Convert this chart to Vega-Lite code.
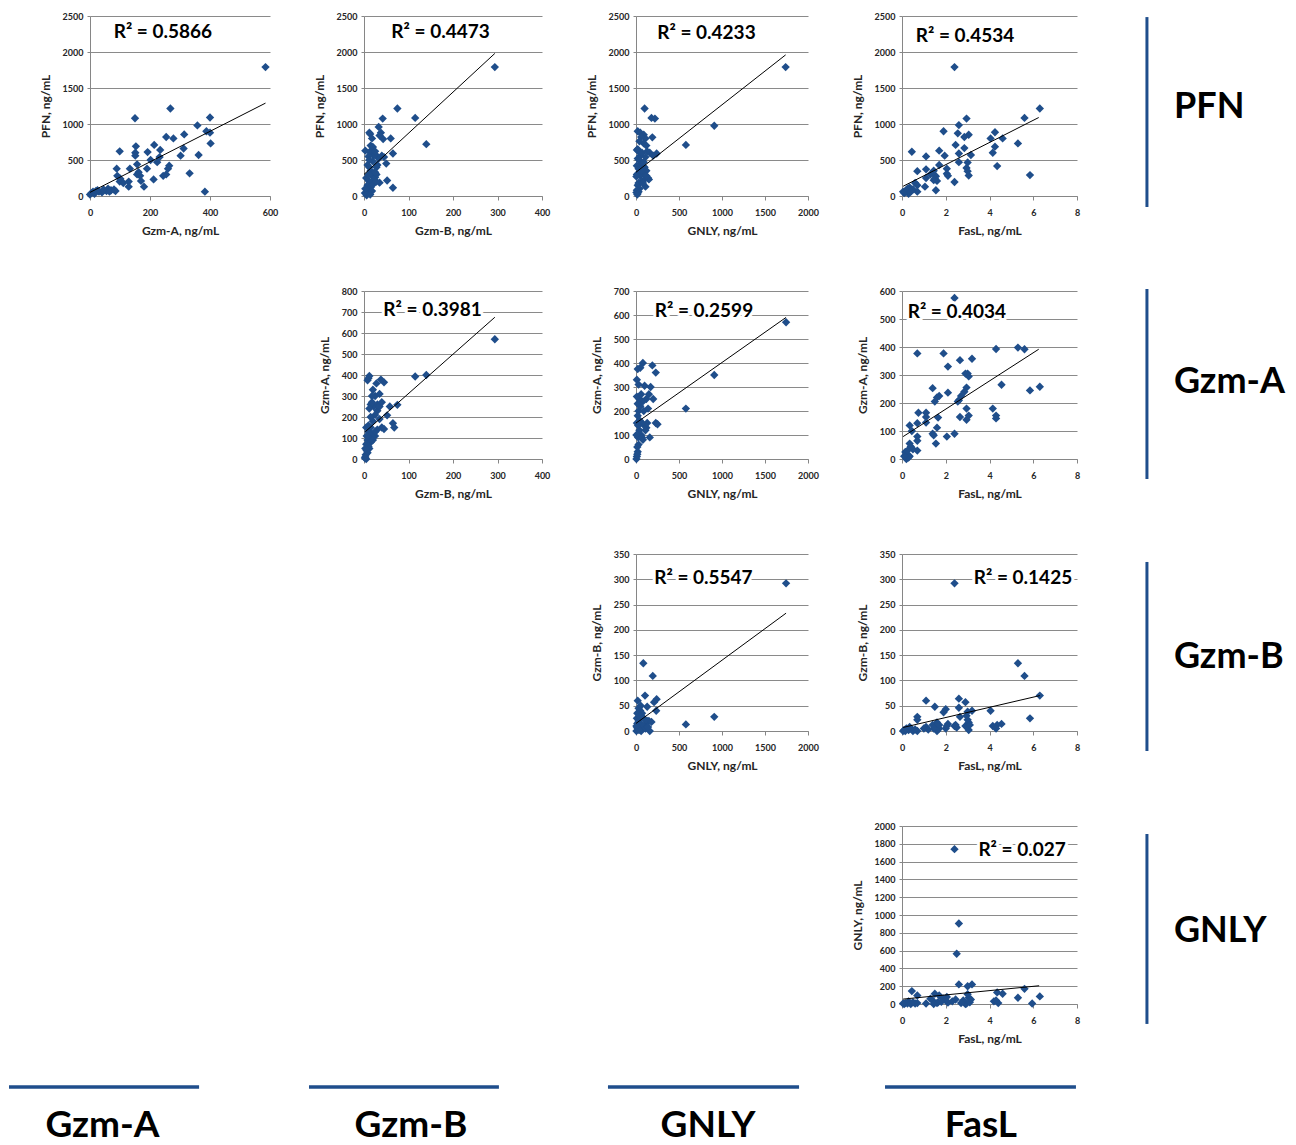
{
"$schema": "https://vega.github.io/schema/vega-lite/v6.json",
"background": "white",
"padding": {"left": 7, "top": 12, "right": 0, "bottom": 0},
"datasets": {
"PFN_GzmA": [{"GzmA":585,"PFN":1790},{"GzmA":268,"PFN":1215},{"GzmA":150,"PFN":1080},{"GzmA":400,"PFN":1090},{"GzmA":358,"PFN":980},{"GzmA":388,"PFN":900},{"GzmA":400,"PFN":880},{"GzmA":254,"PFN":820},{"GzmA":278,"PFN":800},{"GzmA":314,"PFN":855},{"GzmA":234,"PFN":640},{"GzmA":214,"PFN":710},{"GzmA":153,"PFN":690},{"GzmA":151,"PFN":600},{"GzmA":151,"PFN":560},{"GzmA":192,"PFN":610},{"GzmA":99,"PFN":620},{"GzmA":402,"PFN":730},{"GzmA":312,"PFN":660},{"GzmA":302,"PFN":560},{"GzmA":362,"PFN":570},{"GzmA":264,"PFN":420},{"GzmA":260,"PFN":380},{"GzmA":224,"PFN":470},{"GzmA":157,"PFN":440},{"GzmA":133,"PFN":380},{"GzmA":190,"PFN":380},{"GzmA":89,"PFN":380},{"GzmA":332,"PFN":315},{"GzmA":254,"PFN":300},{"GzmA":244,"PFN":280},{"GzmA":212,"PFN":230},{"GzmA":167,"PFN":280},{"GzmA":157,"PFN":300},{"GzmA":170,"PFN":210},{"GzmA":180,"PFN":130},{"GzmA":129,"PFN":130},{"GzmA":129,"PFN":200},{"GzmA":99,"PFN":200},{"GzmA":91,"PFN":280},{"GzmA":101,"PFN":240},{"GzmA":383,"PFN":60},{"GzmA":70,"PFN":80},{"GzmA":55,"PFN":70},{"GzmA":40,"PFN":50},{"GzmA":30,"PFN":60},{"GzmA":20,"PFN":70},{"GzmA":10,"PFN":60},{"GzmA":5,"PFN":40},{"GzmA":0,"PFN":20},{"GzmA":80,"PFN":90},{"GzmA":60,"PFN":100},{"GzmA":111,"PFN":180},{"GzmA":232,"PFN":540},{"GzmA":162,"PFN":330},{"GzmA":202,"PFN":500},{"GzmA":25,"PFN":80},{"GzmA":15,"PFN":30},{"GzmA":45,"PFN":90},{"GzmA":65,"PFN":60},{"GzmA":85,"PFN":70}],
"fit_PFN_GzmA": [{"GzmA":0,"PFN":50},{"GzmA":585,"PFN":1290}],
"PFN_GzmB": [{"GzmB":294,"PFN":1790},{"GzmB":75,"PFN":1215},{"GzmB":115,"PFN":1085},{"GzmB":140,"PFN":720},{"GzmB":42,"PFN":1075},{"GzmB":65,"PFN":590},{"GzmB":60,"PFN":800},{"GzmB":65,"PFN":115},{"GzmB":52,"PFN":215},{"GzmB":50,"PFN":450},{"GzmB":33,"PFN":960},{"GzmB":38,"PFN":880},{"GzmB":43,"PFN":790},{"GzmB":35,"PFN":840},{"GzmB":30,"PFN":550},{"GzmB":33,"PFN":520},{"GzmB":28,"PFN":400},{"GzmB":28,"PFN":300},{"GzmB":35,"PFN":185},{"GzmB":12,"PFN":880},{"GzmB":14,"PFN":860},{"GzmB":18,"PFN":800},{"GzmB":15,"PFN":700},{"GzmB":20,"PFN":680},{"GzmB":17,"PFN":640},{"GzmB":15,"PFN":600},{"GzmB":22,"PFN":560},{"GzmB":10,"PFN":550},{"GzmB":3,"PFN":630},{"GzmB":8,"PFN":430},{"GzmB":12,"PFN":400},{"GzmB":15,"PFN":350},{"GzmB":20,"PFN":320},{"GzmB":18,"PFN":280},{"GzmB":25,"PFN":260},{"GzmB":22,"PFN":230},{"GzmB":12,"PFN":200},{"GzmB":8,"PFN":150},{"GzmB":15,"PFN":120},{"GzmB":10,"PFN":80},{"GzmB":5,"PFN":50},{"GzmB":2,"PFN":40},{"GzmB":8,"PFN":30},{"GzmB":18,"PFN":70},{"GzmB":25,"PFN":330},{"GzmB":30,"PFN":430},{"GzmB":40,"PFN":560},{"GzmB":20,"PFN":480},{"GzmB":12,"PFN":500},{"GzmB":25,"PFN":620},{"GzmB":5,"PFN":250},{"GzmB":3,"PFN":100},{"GzmB":10,"PFN":300},{"GzmB":20,"PFN":160},{"GzmB":28,"PFN":200},{"GzmB":45,"PFN":540},{"GzmB":6,"PFN":10},{"GzmB":14,"PFN":20}],
"fit_PFN_GzmB": [{"GzmB":0,"PFN":300},{"GzmB":294,"PFN":1980}],
"PFN_GNLY": [{"GNLY":1740,"PFN":1790},{"GNLY":910,"PFN":975},{"GNLY":580,"PFN":710},{"GNLY":100,"PFN":1215},{"GNLY":180,"PFN":1085},{"GNLY":220,"PFN":1075},{"GNLY":190,"PFN":815},{"GNLY":240,"PFN":590},{"GNLY":160,"PFN":600},{"GNLY":20,"PFN":900},{"GNLY":50,"PFN":880},{"GNLY":90,"PFN":850},{"GNLY":110,"PFN":800},{"GNLY":90,"PFN":730},{"GNLY":120,"PFN":700},{"GNLY":10,"PFN":640},{"GNLY":30,"PFN":620},{"GNLY":50,"PFN":560},{"GNLY":20,"PFN":520},{"GNLY":40,"PFN":500},{"GNLY":60,"PFN":450},{"GNLY":10,"PFN":420},{"GNLY":100,"PFN":400},{"GNLY":30,"PFN":380},{"GNLY":120,"PFN":350},{"GNLY":70,"PFN":320},{"GNLY":10,"PFN":300},{"GNLY":50,"PFN":280},{"GNLY":140,"PFN":250},{"GNLY":150,"PFN":230},{"GNLY":90,"PFN":220},{"GNLY":60,"PFN":200},{"GNLY":30,"PFN":180},{"GNLY":20,"PFN":150},{"GNLY":110,"PFN":130},{"GNLY":40,"PFN":100},{"GNLY":10,"PFN":80},{"GNLY":30,"PFN":60},{"GNLY":5,"PFN":50},{"GNLY":20,"PFN":40},{"GNLY":20,"PFN":650},{"GNLY":70,"PFN":600},{"GNLY":60,"PFN":820},{"GNLY":40,"PFN":760},{"GNLY":110,"PFN":540},{"GNLY":90,"PFN":470},{"GNLY":120,"PFN":280},{"GNLY":80,"PFN":180},{"GNLY":5,"PFN":270},{"GNLY":60,"PFN":350},{"GNLY":130,"PFN":620},{"GNLY":200,"PFN":560},{"GNLY":15,"PFN":20}],
"fit_PFN_GNLY": [{"GNLY":0,"PFN":330},{"GNLY":1740,"PFN":1960}],
"PFN_FasL": [{"FasL":2.4,"PFN":1790},{"FasL":6.3,"PFN":1215},{"FasL":5.6,"PFN":1085},{"FasL":2.95,"PFN":1075},{"FasL":2.6,"PFN":985},{"FasL":1.9,"PFN":900},{"FasL":2.55,"PFN":870},{"FasL":3.05,"PFN":850},{"FasL":2.85,"PFN":820},{"FasL":4.25,"PFN":885},{"FasL":4.05,"PFN":800},{"FasL":4.6,"PFN":800},{"FasL":5.3,"PFN":730},{"FasL":2.45,"PFN":710},{"FasL":2.85,"PFN":665},{"FasL":4.25,"PFN":685},{"FasL":1.7,"PFN":630},{"FasL":0.45,"PFN":615},{"FasL":4.15,"PFN":600},{"FasL":2.6,"PFN":590},{"FasL":3.15,"PFN":570},{"FasL":1.95,"PFN":560},{"FasL":1.1,"PFN":550},{"FasL":2.6,"PFN":470},{"FasL":3.0,"PFN":465},{"FasL":1.7,"PFN":430},{"FasL":4.35,"PFN":415},{"FasL":2.95,"PFN":390},{"FasL":2.05,"PFN":380},{"FasL":1.1,"PFN":370},{"FasL":1.45,"PFN":350},{"FasL":0.7,"PFN":345},{"FasL":3.0,"PFN":345},{"FasL":2.05,"PFN":310},{"FasL":2.1,"PFN":280},{"FasL":1.55,"PFN":275},{"FasL":3.05,"PFN":285},{"FasL":5.85,"PFN":290},{"FasL":1.5,"PFN":240},{"FasL":1.1,"PFN":250},{"FasL":1.6,"PFN":210},{"FasL":2.4,"PFN":195},{"FasL":0.6,"PFN":180},{"FasL":0.7,"PFN":150},{"FasL":1.05,"PFN":130},{"FasL":0.35,"PFN":120},{"FasL":1.55,"PFN":80},{"FasL":0.7,"PFN":60},{"FasL":0.05,"PFN":60},{"FasL":0.1,"PFN":40},{"FasL":0.3,"PFN":30},{"FasL":0.2,"PFN":80},{"FasL":0.5,"PFN":90},{"FasL":0.15,"PFN":55},{"FasL":1.45,"PFN":220},{"FasL":0.25,"PFN":100},{"FasL":0.4,"PFN":60},{"FasL":1.3,"PFN":300}],
"fit_PFN_FasL": [{"FasL":0.05,"PFN":135},{"FasL":6.25,"PFN":1090}],
"GzmA_GzmB": [{"GzmB":294,"GzmA":570},{"GzmB":115,"GzmA":393},{"GzmB":140,"GzmA":400},{"GzmB":75,"GzmA":258},{"GzmB":65,"GzmA":170},{"GzmB":68,"GzmA":150},{"GzmB":58,"GzmA":250},{"GzmB":52,"GzmA":208},{"GzmB":45,"GzmA":365},{"GzmB":38,"GzmA":378},{"GzmB":35,"GzmA":310},{"GzmB":40,"GzmA":150},{"GzmB":45,"GzmA":143},{"GzmB":30,"GzmA":230},{"GzmB":30,"GzmA":260},{"GzmB":20,"GzmA":330},{"GzmB":25,"GzmA":300},{"GzmB":22,"GzmA":250},{"GzmB":15,"GzmA":260},{"GzmB":10,"GzmA":385},{"GzmB":12,"GzmA":395},{"GzmB":8,"GzmA":375},{"GzmB":18,"GzmA":300},{"GzmB":28,"GzmA":360},{"GzmB":35,"GzmA":250},{"GzmB":25,"GzmA":210},{"GzmB":20,"GzmA":180},{"GzmB":15,"GzmA":150},{"GzmB":10,"GzmA":130},{"GzmB":18,"GzmA":120},{"GzmB":25,"GzmA":110},{"GzmB":12,"GzmA":100},{"GzmB":8,"GzmA":90},{"GzmB":15,"GzmA":80},{"GzmB":5,"GzmA":70},{"GzmB":10,"GzmA":60},{"GzmB":12,"GzmA":50},{"GzmB":6,"GzmA":40},{"GzmB":8,"GzmA":30},{"GzmB":4,"GzmA":20},{"GzmB":3,"GzmA":10},{"GzmB":5,"GzmA":0},{"GzmB":2,"GzmA":5},{"GzmB":30,"GzmA":140},{"GzmB":20,"GzmA":90},{"GzmB":15,"GzmA":200},{"GzmB":10,"GzmA":160},{"GzmB":5,"GzmA":150},{"GzmB":25,"GzmA":130},{"GzmB":35,"GzmA":190},{"GzmB":12,"GzmA":240},{"GzmB":18,"GzmA":270},{"GzmB":40,"GzmA":270},{"GzmB":6,"GzmA":110},{"GzmB":3,"GzmA":50}],
"fit_GzmA_GzmB": [{"GzmB":3,"GzmA":130},{"GzmB":294,"GzmA":675}],
"GzmA_GNLY": [{"GNLY":1745,"GzmA":570},{"GNLY":910,"GzmA":350},{"GNLY":580,"GzmA":210},{"GNLY":190,"GzmA":390},{"GNLY":230,"GzmA":360},{"GNLY":80,"GzmA":400},{"GNLY":50,"GzmA":380},{"GNLY":20,"GzmA":375},{"GNLY":10,"GzmA":330},{"GNLY":100,"GzmA":305},{"GNLY":170,"GzmA":300},{"GNLY":200,"GzmA":250},{"GNLY":150,"GzmA":270},{"GNLY":120,"GzmA":250},{"GNLY":80,"GzmA":240},{"GNLY":40,"GzmA":250},{"GNLY":140,"GzmA":210},{"GNLY":230,"GzmA":150},{"GNLY":250,"GzmA":145},{"GNLY":160,"GzmA":90},{"GNLY":100,"GzmA":140},{"GNLY":70,"GzmA":150},{"GNLY":60,"GzmA":100},{"GNLY":30,"GzmA":200},{"GNLY":20,"GzmA":180},{"GNLY":10,"GzmA":150},{"GNLY":40,"GzmA":120},{"GNLY":30,"GzmA":60},{"GNLY":20,"GzmA":30},{"GNLY":10,"GzmA":10},{"GNLY":5,"GzmA":0},{"GNLY":50,"GzmA":220},{"GNLY":90,"GzmA":200},{"GNLY":120,"GzmA":130},{"GNLY":80,"GzmA":80},{"GNLY":25,"GzmA":90},{"GNLY":15,"GzmA":50},{"GNLY":10,"GzmA":260},{"GNLY":30,"GzmA":310},{"GNLY":60,"GzmA":270},{"GNLY":5,"GzmA":100},{"GNLY":20,"GzmA":230},{"GNLY":45,"GzmA":160},{"GNLY":110,"GzmA":120},{"GNLY":130,"GzmA":150},{"GNLY":70,"GzmA":90},{"GNLY":15,"GzmA":20},{"GNLY":25,"GzmA":140}],
"fit_GzmA_GNLY": [{"GNLY":0,"GzmA":150},{"GNLY":1745,"GzmA":590}],
"GzmA_FasL": [{"FasL":2.4,"GzmA":575},{"FasL":4.3,"GzmA":393},{"FasL":5.3,"GzmA":398},{"FasL":5.6,"GzmA":392},{"FasL":0.7,"GzmA":377},{"FasL":1.9,"GzmA":377},{"FasL":3.2,"GzmA":358},{"FasL":2.65,"GzmA":353},{"FasL":2.1,"GzmA":330},{"FasL":3.0,"GzmA":305},{"FasL":2.9,"GzmA":305},{"FasL":3.05,"GzmA":295},{"FasL":4.55,"GzmA":265},{"FasL":6.3,"GzmA":258},{"FasL":2.95,"GzmA":255},{"FasL":5.85,"GzmA":245},{"FasL":1.4,"GzmA":253},{"FasL":2.85,"GzmA":240},{"FasL":2.1,"GzmA":237},{"FasL":1.7,"GzmA":225},{"FasL":1.6,"GzmA":220},{"FasL":2.7,"GzmA":225},{"FasL":1.5,"GzmA":205},{"FasL":2.6,"GzmA":210},{"FasL":2.55,"GzmA":205},{"FasL":2.95,"GzmA":180},{"FasL":4.15,"GzmA":180},{"FasL":0.75,"GzmA":165},{"FasL":1.1,"GzmA":165},{"FasL":1.1,"GzmA":150},{"FasL":1.65,"GzmA":148},{"FasL":2.65,"GzmA":150},{"FasL":3.05,"GzmA":155},{"FasL":2.95,"GzmA":140},{"FasL":4.3,"GzmA":155},{"FasL":4.3,"GzmA":145},{"FasL":1.1,"GzmA":130},{"FasL":0.7,"GzmA":128},{"FasL":0.35,"GzmA":120},{"FasL":1.6,"GzmA":112},{"FasL":0.45,"GzmA":100},{"FasL":1.4,"GzmA":90},{"FasL":1.45,"GzmA":85},{"FasL":2.4,"GzmA":90},{"FasL":2.05,"GzmA":80},{"FasL":0.7,"GzmA":80},{"FasL":0.7,"GzmA":65},{"FasL":0.35,"GzmA":55},{"FasL":1.55,"GzmA":55},{"FasL":0.4,"GzmA":45},{"FasL":0.7,"GzmA":30},{"FasL":0.15,"GzmA":25},{"FasL":0.25,"GzmA":15},{"FasL":0.35,"GzmA":10},{"FasL":0.2,"GzmA":0},{"FasL":0.3,"GzmA":5},{"FasL":0.1,"GzmA":10},{"FasL":0.5,"GzmA":35},{"FasL":0.25,"GzmA":30}],
"fit_GzmA_FasL": [{"FasL":0.05,"GzmA":80},{"FasL":6.25,"GzmA":392}],
"GzmB_GNLY": [{"GNLY":1745,"GzmB":292},{"GNLY":910,"GzmB":28},{"GNLY":580,"GzmB":13},{"GNLY":85,"GzmB":134},{"GNLY":195,"GzmB":109},{"GNLY":105,"GzmB":70},{"GNLY":240,"GzmB":63},{"GNLY":210,"GzmB":57},{"GNLY":235,"GzmB":40},{"GNLY":130,"GzmB":48},{"GNLY":20,"GzmB":60},{"GNLY":30,"GzmB":45},{"GNLY":50,"GzmB":40},{"GNLY":70,"GzmB":35},{"GNLY":10,"GzmB":25},{"GNLY":60,"GzmB":30},{"GNLY":90,"GzmB":25},{"GNLY":150,"GzmB":20},{"GNLY":120,"GzmB":15},{"GNLY":160,"GzmB":0},{"GNLY":40,"GzmB":10},{"GNLY":20,"GzmB":5},{"GNLY":5,"GzmB":0},{"GNLY":100,"GzmB":10},{"GNLY":80,"GzmB":5},{"GNLY":60,"GzmB":0},{"GNLY":30,"GzmB":20},{"GNLY":50,"GzmB":15},{"GNLY":15,"GzmB":35},{"GNLY":25,"GzmB":12},{"GNLY":10,"GzmB":8},{"GNLY":40,"GzmB":30},{"GNLY":70,"GzmB":12},{"GNLY":110,"GzmB":5},{"GNLY":130,"GzmB":20},{"GNLY":140,"GzmB":8},{"GNLY":35,"GzmB":2},{"GNLY":15,"GzmB":15},{"GNLY":5,"GzmB":10},{"GNLY":55,"GzmB":50},{"GNLY":180,"GzmB":18}],
"fit_GzmB_GNLY": [{"GNLY":0,"GzmB":15},{"GNLY":1745,"GzmB":233}],
"GzmB_FasL": [{"FasL":2.4,"GzmB":292},{"FasL":5.3,"GzmB":134},{"FasL":5.6,"GzmB":109},{"FasL":6.3,"GzmB":70},{"FasL":2.6,"GzmB":64},{"FasL":1.1,"GzmB":60},{"FasL":2.9,"GzmB":57},{"FasL":1.5,"GzmB":48},{"FasL":2.6,"GzmB":46},{"FasL":2.0,"GzmB":43},{"FasL":1.9,"GzmB":37},{"FasL":3.0,"GzmB":38},{"FasL":3.2,"GzmB":40},{"FasL":4.05,"GzmB":40},{"FasL":0.7,"GzmB":28},{"FasL":0.7,"GzmB":22},{"FasL":2.65,"GzmB":28},{"FasL":5.85,"GzmB":25},{"FasL":3.0,"GzmB":22},{"FasL":3.05,"GzmB":17},{"FasL":1.6,"GzmB":17},{"FasL":1.4,"GzmB":12},{"FasL":2.1,"GzmB":14},{"FasL":4.55,"GzmB":14},{"FasL":4.15,"GzmB":10},{"FasL":4.35,"GzmB":12},{"FasL":1.6,"GzmB":10},{"FasL":2.4,"GzmB":10},{"FasL":1.1,"GzmB":8},{"FasL":2.9,"GzmB":10},{"FasL":2.5,"GzmB":7},{"FasL":1.7,"GzmB":5},{"FasL":2.0,"GzmB":5},{"FasL":4.3,"GzmB":5},{"FasL":0.4,"GzmB":5},{"FasL":0.3,"GzmB":2},{"FasL":0.1,"GzmB":2},{"FasL":0.05,"GzmB":0},{"FasL":0.5,"GzmB":0},{"FasL":0.7,"GzmB":0},{"FasL":1.6,"GzmB":0},{"FasL":3.05,"GzmB":2},{"FasL":0.2,"GzmB":5},{"FasL":0.35,"GzmB":8},{"FasL":1.45,"GzmB":5},{"FasL":2.05,"GzmB":10},{"FasL":2.95,"GzmB":30},{"FasL":3.1,"GzmB":12},{"FasL":1.7,"GzmB":12},{"FasL":0.6,"GzmB":3},{"FasL":1.2,"GzmB":3},{"FasL":2.45,"GzmB":12},{"FasL":0.15,"GzmB":0},{"FasL":1.0,"GzmB":5}],
"fit_GzmB_FasL": [{"FasL":0.05,"GzmB":7},{"FasL":6.3,"GzmB":70}],
"GNLY_FasL": [{"FasL":2.4,"GNLY":1740},{"FasL":2.6,"GNLY":905},{"FasL":2.5,"GNLY":565},{"FasL":2.6,"GNLY":220},{"FasL":3.2,"GNLY":220},{"FasL":3.0,"GNLY":200},{"FasL":0.45,"GNLY":145},{"FasL":5.6,"GNLY":170},{"FasL":4.35,"GNLY":130},{"FasL":4.6,"GNLY":115},{"FasL":1.5,"GNLY":115},{"FasL":0.7,"GNLY":95},{"FasL":1.7,"GNLY":95},{"FasL":6.3,"GNLY":85},{"FasL":2.05,"GNLY":80},{"FasL":3.05,"GNLY":70},{"FasL":5.3,"GNLY":70},{"FasL":1.9,"GNLY":60},{"FasL":2.45,"GNLY":50},{"FasL":1.4,"GNLY":40},{"FasL":0.3,"GNLY":30},{"FasL":4.2,"GNLY":30},{"FasL":4.4,"GNLY":10},{"FasL":1.1,"GNLY":5},{"FasL":5.95,"GNLY":5},{"FasL":0.1,"GNLY":0},{"FasL":0.6,"GNLY":5},{"FasL":1.6,"GNLY":10},{"FasL":2.9,"GNLY":0},{"FasL":2.95,"GNLY":5},{"FasL":3.1,"GNLY":20},{"FasL":0.25,"GNLY":5},{"FasL":1.65,"GNLY":20},{"FasL":2.1,"GNLY":15},{"FasL":0.15,"GNLY":10},{"FasL":0.4,"GNLY":0},{"FasL":0.7,"GNLY":10},{"FasL":2.0,"GNLY":40},{"FasL":1.8,"GNLY":25},{"FasL":3.0,"GNLY":110},{"FasL":2.8,"GNLY":40},{"FasL":1.45,"GNLY":0},{"FasL":0.05,"GNLY":5},{"FasL":3.15,"GNLY":50},{"FasL":2.7,"GNLY":10},{"FasL":4.3,"GNLY":40},{"FasL":0.5,"GNLY":20},{"FasL":1.3,"GNLY":60},{"FasL":2.3,"GNLY":30}],
"fit_GNLY_FasL": [{"FasL":0.05,"GNLY":55},{"FasL":6.27,"GNLY":205}]
},
"concat": [
 {"width": 180, "height": 180, "layer": [
   {"data": {"name": "PFN_GzmA"}, "mark": {"type": "point", "shape": "diamond", "filled": true, "size": 70, "color": "#1f4e8b", "opacity": 1},
    "encoding": {"x": {"field": "GzmA", "type": "quantitative", "scale": {"domain": [0, 600], "nice": false}, "axis": {"values": [0, 200, 400, 600], "title": "Gzm-A, ng/mL"}},
                 "y": {"field": "PFN", "type": "quantitative", "scale": {"domain": [0, 2500], "nice": false}, "axis": {"values": [0, 500, 1000, 1500, 2000, 2500], "title": "PFN, ng/mL"}}}},
   {"data": {"name": "fit_PFN_GzmA"}, "mark": {"type": "line", "color": "#000000", "strokeWidth": 1},
    "encoding": {"x": {"field": "GzmA", "type": "quantitative", "axis": {"values": [0, 200, 400, 600], "title": "Gzm-A, ng/mL"}}, "y": {"field": "PFN", "type": "quantitative", "axis": {"values": [0, 500, 1000, 1500, 2000, 2500], "title": "PFN, ng/mL"}}}},
   {"data": {"values": [{"r2": "R² = 0.5866"}]}, "mark": {"type": "text", "font": "Lato", "fontWeight": "bold", "fontSize": 19, "fill": "white", "stroke": "white", "strokeWidth": 6, "strokeJoin": "round"},
    "encoding": {"x": {"datum": 243, "type": "quantitative", "axis": {"values": [0, 200, 400, 600], "title": "Gzm-A, ng/mL"}}, "y": {"datum": 2278, "type": "quantitative", "axis": {"values": [0, 500, 1000, 1500, 2000, 2500], "title": "PFN, ng/mL"}}, "text": {"field": "r2"}}},
   {"data": {"values": [{"r2": "R² = 0.5866"}]}, "mark": {"type": "text", "font": "Lato", "fontWeight": "bold", "fontSize": 19, "fill": "black"},
    "encoding": {"x": {"datum": 243, "type": "quantitative", "axis": {"values": [0, 200, 400, 600], "title": "Gzm-A, ng/mL"}}, "y": {"datum": 2278, "type": "quantitative", "axis": {"values": [0, 500, 1000, 1500, 2000, 2500], "title": "PFN, ng/mL"}}, "text": {"field": "r2"}}}
 ]},
 {"width": 178, "height": 180, "layer": [
   {"data": {"name": "PFN_GzmB"}, "mark": {"type": "point", "shape": "diamond", "filled": true, "size": 70, "color": "#1f4e8b", "opacity": 1},
    "encoding": {"x": {"field": "GzmB", "type": "quantitative", "scale": {"domain": [0, 400], "nice": false}, "axis": {"values": [0, 100, 200, 300, 400], "title": "Gzm-B, ng/mL"}},
                 "y": {"field": "PFN", "type": "quantitative", "scale": {"domain": [0, 2500], "nice": false}, "axis": {"values": [0, 500, 1000, 1500, 2000, 2500], "title": "PFN, ng/mL"}}}},
   {"data": {"name": "fit_PFN_GzmB"}, "mark": {"type": "line", "color": "#000000", "strokeWidth": 1},
    "encoding": {"x": {"field": "GzmB", "type": "quantitative", "axis": {"values": [0, 100, 200, 300, 400], "title": "Gzm-B, ng/mL"}}, "y": {"field": "PFN", "type": "quantitative", "axis": {"values": [0, 500, 1000, 1500, 2000, 2500], "title": "PFN, ng/mL"}}}},
   {"data": {"values": [{"r2": "R² = 0.4473"}]}, "mark": {"type": "text", "font": "Lato", "fontWeight": "bold", "fontSize": 19, "fill": "white", "stroke": "white", "strokeWidth": 6, "strokeJoin": "round"},
    "encoding": {"x": {"datum": 172, "type": "quantitative", "axis": {"values": [0, 100, 200, 300, 400], "title": "Gzm-B, ng/mL"}}, "y": {"datum": 2278, "type": "quantitative", "axis": {"values": [0, 500, 1000, 1500, 2000, 2500], "title": "PFN, ng/mL"}}, "text": {"field": "r2"}}},
   {"data": {"values": [{"r2": "R² = 0.4473"}]}, "mark": {"type": "text", "font": "Lato", "fontWeight": "bold", "fontSize": 19, "fill": "black"},
    "encoding": {"x": {"datum": 172, "type": "quantitative", "axis": {"values": [0, 100, 200, 300, 400], "title": "Gzm-B, ng/mL"}}, "y": {"datum": 2278, "type": "quantitative", "axis": {"values": [0, 500, 1000, 1500, 2000, 2500], "title": "PFN, ng/mL"}}, "text": {"field": "r2"}}}
 ]},
 {"width": 172, "height": 180, "layer": [
   {"data": {"name": "PFN_GNLY"}, "mark": {"type": "point", "shape": "diamond", "filled": true, "size": 70, "color": "#1f4e8b", "opacity": 1},
    "encoding": {"x": {"field": "GNLY", "type": "quantitative", "scale": {"domain": [0, 2000], "nice": false}, "axis": {"values": [0, 500, 1000, 1500, 2000], "title": "GNLY, ng/mL"}},
                 "y": {"field": "PFN", "type": "quantitative", "scale": {"domain": [0, 2500], "nice": false}, "axis": {"values": [0, 500, 1000, 1500, 2000, 2500], "title": "PFN, ng/mL"}}}},
   {"data": {"name": "fit_PFN_GNLY"}, "mark": {"type": "line", "color": "#000000", "strokeWidth": 1},
    "encoding": {"x": {"field": "GNLY", "type": "quantitative", "axis": {"values": [0, 500, 1000, 1500, 2000], "title": "GNLY, ng/mL"}}, "y": {"field": "PFN", "type": "quantitative", "axis": {"values": [0, 500, 1000, 1500, 2000, 2500], "title": "PFN, ng/mL"}}}},
   {"data": {"values": [{"r2": "R² = 0.4233"}]}, "mark": {"type": "text", "font": "Lato", "fontWeight": "bold", "fontSize": 19, "fill": "white", "stroke": "white", "strokeWidth": 6, "strokeJoin": "round"},
    "encoding": {"x": {"datum": 819, "type": "quantitative", "axis": {"values": [0, 500, 1000, 1500, 2000], "title": "GNLY, ng/mL"}}, "y": {"datum": 2264, "type": "quantitative", "axis": {"values": [0, 500, 1000, 1500, 2000, 2500], "title": "PFN, ng/mL"}}, "text": {"field": "r2"}}},
   {"data": {"values": [{"r2": "R² = 0.4233"}]}, "mark": {"type": "text", "font": "Lato", "fontWeight": "bold", "fontSize": 19, "fill": "black"},
    "encoding": {"x": {"datum": 819, "type": "quantitative", "axis": {"values": [0, 500, 1000, 1500, 2000], "title": "GNLY, ng/mL"}}, "y": {"datum": 2264, "type": "quantitative", "axis": {"values": [0, 500, 1000, 1500, 2000, 2500], "title": "PFN, ng/mL"}}, "text": {"field": "r2"}}}
 ]},
 {"width": 175, "height": 180, "layer": [
   {"data": {"name": "PFN_FasL"}, "mark": {"type": "point", "shape": "diamond", "filled": true, "size": 70, "color": "#1f4e8b", "opacity": 1},
    "encoding": {"x": {"field": "FasL", "type": "quantitative", "scale": {"domain": [0, 8], "nice": false}, "axis": {"values": [0, 2, 4, 6, 8], "title": "FasL, ng/mL"}},
                 "y": {"field": "PFN", "type": "quantitative", "scale": {"domain": [0, 2500], "nice": false}, "axis": {"values": [0, 500, 1000, 1500, 2000, 2500], "title": "PFN, ng/mL"}}}},
   {"data": {"name": "fit_PFN_FasL"}, "mark": {"type": "line", "color": "#000000", "strokeWidth": 1},
    "encoding": {"x": {"field": "FasL", "type": "quantitative", "axis": {"values": [0, 2, 4, 6, 8], "title": "FasL, ng/mL"}}, "y": {"field": "PFN", "type": "quantitative", "axis": {"values": [0, 500, 1000, 1500, 2000, 2500], "title": "PFN, ng/mL"}}}},
   {"data": {"values": [{"r2": "R² = 0.4534"}]}, "mark": {"type": "text", "font": "Lato", "fontWeight": "bold", "fontSize": 19, "fill": "white", "stroke": "white", "strokeWidth": 6, "strokeJoin": "round"},
    "encoding": {"x": {"datum": 2.88, "type": "quantitative", "axis": {"values": [0, 2, 4, 6, 8], "title": "FasL, ng/mL"}}, "y": {"datum": 2222, "type": "quantitative", "axis": {"values": [0, 500, 1000, 1500, 2000, 2500], "title": "PFN, ng/mL"}}, "text": {"field": "r2"}}},
   {"data": {"values": [{"r2": "R² = 0.4534"}]}, "mark": {"type": "text", "font": "Lato", "fontWeight": "bold", "fontSize": 19, "fill": "black"},
    "encoding": {"x": {"datum": 2.88, "type": "quantitative", "axis": {"values": [0, 2, 4, 6, 8], "title": "FasL, ng/mL"}}, "y": {"datum": 2222, "type": "quantitative", "axis": {"values": [0, 500, 1000, 1500, 2000, 2500], "title": "PFN, ng/mL"}}, "text": {"field": "r2"}}}
 ]},
 {"width": 124, "height": 180, "data": {"values": [{"name": "PFN"}]}, "layer": [
   {"mark": {"type": "rule", "color": "#1f4e8c", "strokeWidth": 3}, "encoding": {"x": {"datum": -0.194, "type": "quantitative", "scale": {"domain": [0, 1]}, "axis": null}, "y": {"datum": -0.061, "type": "quantitative", "scale": {"domain": [0, 1]}, "axis": null}, "y2": {"datum": 0.994}}},
   {"mark": {"type": "text", "font": "Lato", "fontWeight": "bold", "fontSize": 36, "align": "left", "baseline": "middle", "color": "black"}, "encoding": {"x": {"datum": 0.024, "type": "quantitative"}, "y": {"datum": 0.494, "type": "quantitative"}, "text": {"field": "name"}}}
 ]},

 {"width": 180, "height": 168, "data": {"values": [{}]}, "mark": {"type": "text", "text": ""}, "encoding": {}},
 {"width": 178, "height": 168, "layer": [
   {"data": {"name": "GzmA_GzmB"}, "mark": {"type": "point", "shape": "diamond", "filled": true, "size": 70, "color": "#1f4e8b", "opacity": 1},
    "encoding": {"x": {"field": "GzmB", "type": "quantitative", "scale": {"domain": [0, 400], "nice": false}, "axis": {"values": [0, 100, 200, 300, 400], "title": "Gzm-B, ng/mL"}},
                 "y": {"field": "GzmA", "type": "quantitative", "scale": {"domain": [0, 800], "nice": false}, "axis": {"values": [0, 100, 200, 300, 400, 500, 600, 700, 800], "title": "Gzm-A, ng/mL"}}}},
   {"data": {"name": "fit_GzmA_GzmB"}, "mark": {"type": "line", "color": "#000000", "strokeWidth": 1},
    "encoding": {"x": {"field": "GzmB", "type": "quantitative", "axis": {"values": [0, 100, 200, 300, 400], "title": "Gzm-B, ng/mL"}}, "y": {"field": "GzmA", "type": "quantitative", "axis": {"values": [0, 100, 200, 300, 400, 500, 600, 700, 800], "title": "Gzm-A, ng/mL"}}}},
   {"data": {"values": [{"r2": "R² = 0.3981"}]}, "mark": {"type": "text", "font": "Lato", "fontWeight": "bold", "fontSize": 19, "fill": "white", "stroke": "white", "strokeWidth": 6, "strokeJoin": "round"},
    "encoding": {"x": {"datum": 154, "type": "quantitative", "axis": {"values": [0, 100, 200, 300, 400], "title": "Gzm-B, ng/mL"}}, "y": {"datum": 710, "type": "quantitative", "axis": {"values": [0, 100, 200, 300, 400, 500, 600, 700, 800], "title": "Gzm-A, ng/mL"}}, "text": {"field": "r2"}}},
   {"data": {"values": [{"r2": "R² = 0.3981"}]}, "mark": {"type": "text", "font": "Lato", "fontWeight": "bold", "fontSize": 19, "fill": "black"},
    "encoding": {"x": {"datum": 154, "type": "quantitative", "axis": {"values": [0, 100, 200, 300, 400], "title": "Gzm-B, ng/mL"}}, "y": {"datum": 710, "type": "quantitative", "axis": {"values": [0, 100, 200, 300, 400, 500, 600, 700, 800], "title": "Gzm-A, ng/mL"}}, "text": {"field": "r2"}}}
 ]},
 {"width": 172, "height": 168, "layer": [
   {"data": {"name": "GzmA_GNLY"}, "mark": {"type": "point", "shape": "diamond", "filled": true, "size": 70, "color": "#1f4e8b", "opacity": 1},
    "encoding": {"x": {"field": "GNLY", "type": "quantitative", "scale": {"domain": [0, 2000], "nice": false}, "axis": {"values": [0, 500, 1000, 1500, 2000], "title": "GNLY, ng/mL"}},
                 "y": {"field": "GzmA", "type": "quantitative", "scale": {"domain": [0, 700], "nice": false}, "axis": {"values": [0, 100, 200, 300, 400, 500, 600, 700], "title": "Gzm-A, ng/mL"}}}},
   {"data": {"name": "fit_GzmA_GNLY"}, "mark": {"type": "line", "color": "#000000", "strokeWidth": 1},
    "encoding": {"x": {"field": "GNLY", "type": "quantitative", "axis": {"values": [0, 500, 1000, 1500, 2000], "title": "GNLY, ng/mL"}}, "y": {"field": "GzmA", "type": "quantitative", "axis": {"values": [0, 100, 200, 300, 400, 500, 600, 700], "title": "Gzm-A, ng/mL"}}}},
   {"data": {"values": [{"r2": "R² = 0.2599"}]}, "mark": {"type": "text", "font": "Lato", "fontWeight": "bold", "fontSize": 19, "fill": "white", "stroke": "white", "strokeWidth": 6, "strokeJoin": "round"},
    "encoding": {"x": {"datum": 790, "type": "quantitative", "axis": {"values": [0, 500, 1000, 1500, 2000], "title": "GNLY, ng/mL"}}, "y": {"datum": 617, "type": "quantitative", "axis": {"values": [0, 100, 200, 300, 400, 500, 600, 700], "title": "Gzm-A, ng/mL"}}, "text": {"field": "r2"}}},
   {"data": {"values": [{"r2": "R² = 0.2599"}]}, "mark": {"type": "text", "font": "Lato", "fontWeight": "bold", "fontSize": 19, "fill": "black"},
    "encoding": {"x": {"datum": 790, "type": "quantitative", "axis": {"values": [0, 500, 1000, 1500, 2000], "title": "GNLY, ng/mL"}}, "y": {"datum": 617, "type": "quantitative", "axis": {"values": [0, 100, 200, 300, 400, 500, 600, 700], "title": "Gzm-A, ng/mL"}}, "text": {"field": "r2"}}}
 ]},
 {"width": 175, "height": 168, "layer": [
   {"data": {"name": "GzmA_FasL"}, "mark": {"type": "point", "shape": "diamond", "filled": true, "size": 70, "color": "#1f4e8b", "opacity": 1},
    "encoding": {"x": {"field": "FasL", "type": "quantitative", "scale": {"domain": [0, 8], "nice": false}, "axis": {"values": [0, 2, 4, 6, 8], "title": "FasL, ng/mL"}},
                 "y": {"field": "GzmA", "type": "quantitative", "scale": {"domain": [0, 600], "nice": false}, "axis": {"values": [0, 100, 200, 300, 400, 500, 600], "title": "Gzm-A, ng/mL"}}}},
   {"data": {"name": "fit_GzmA_FasL"}, "mark": {"type": "line", "color": "#000000", "strokeWidth": 1},
    "encoding": {"x": {"field": "FasL", "type": "quantitative", "axis": {"values": [0, 2, 4, 6, 8], "title": "FasL, ng/mL"}}, "y": {"field": "GzmA", "type": "quantitative", "axis": {"values": [0, 100, 200, 300, 400, 500, 600], "title": "Gzm-A, ng/mL"}}}},
   {"data": {"values": [{"r2": "R² = 0.4034"}]}, "mark": {"type": "text", "font": "Lato", "fontWeight": "bold", "fontSize": 19, "fill": "white", "stroke": "white", "strokeWidth": 6, "strokeJoin": "round"},
    "encoding": {"x": {"datum": 2.51, "type": "quantitative", "axis": {"values": [0, 2, 4, 6, 8], "title": "FasL, ng/mL"}}, "y": {"datum": 525, "type": "quantitative", "axis": {"values": [0, 100, 200, 300, 400, 500, 600], "title": "Gzm-A, ng/mL"}}, "text": {"field": "r2"}}},
   {"data": {"values": [{"r2": "R² = 0.4034"}]}, "mark": {"type": "text", "font": "Lato", "fontWeight": "bold", "fontSize": 19, "fill": "black"},
    "encoding": {"x": {"datum": 2.51, "type": "quantitative", "axis": {"values": [0, 2, 4, 6, 8], "title": "FasL, ng/mL"}}, "y": {"datum": 525, "type": "quantitative", "axis": {"values": [0, 100, 200, 300, 400, 500, 600], "title": "Gzm-A, ng/mL"}}, "text": {"field": "r2"}}}
 ]},
 {"width": 124, "height": 168, "data": {"values": [{"name": "Gzm-A"}]}, "layer": [
   {"mark": {"type": "rule", "color": "#1f4e8c", "strokeWidth": 3}, "encoding": {"x": {"datum": -0.194, "type": "quantitative", "scale": {"domain": [0, 1]}, "axis": null}, "y": {"datum": -0.119, "type": "quantitative", "scale": {"domain": [0, 1]}, "axis": null}, "y2": {"datum": 1.012}}},
   {"mark": {"type": "text", "font": "Lato", "fontWeight": "bold", "fontSize": 36, "align": "left", "baseline": "middle", "color": "black"}, "encoding": {"x": {"datum": 0.024, "type": "quantitative"}, "y": {"datum": 0.458, "type": "quantitative"}, "text": {"field": "name"}}}
 ]},

 {"width": 180, "height": 177, "data": {"values": [{}]}, "mark": {"type": "text", "text": ""}, "encoding": {}},
 {"width": 178, "height": 177, "data": {"values": [{}]}, "mark": {"type": "text", "text": ""}, "encoding": {}},
 {"width": 172, "height": 177, "layer": [
   {"data": {"name": "GzmB_GNLY"}, "mark": {"type": "point", "shape": "diamond", "filled": true, "size": 70, "color": "#1f4e8b", "opacity": 1},
    "encoding": {"x": {"field": "GNLY", "type": "quantitative", "scale": {"domain": [0, 2000], "nice": false}, "axis": {"values": [0, 500, 1000, 1500, 2000], "title": "GNLY, ng/mL"}},
                 "y": {"field": "GzmB", "type": "quantitative", "scale": {"domain": [0, 350], "nice": false}, "axis": {"values": [0, 50, 100, 150, 200, 250, 300, 350], "title": "Gzm-B, ng/mL"}}}},
   {"data": {"name": "fit_GzmB_GNLY"}, "mark": {"type": "line", "color": "#000000", "strokeWidth": 1},
    "encoding": {"x": {"field": "GNLY", "type": "quantitative", "axis": {"values": [0, 500, 1000, 1500, 2000], "title": "GNLY, ng/mL"}}, "y": {"field": "GzmB", "type": "quantitative", "axis": {"values": [0, 50, 100, 150, 200, 250, 300, 350], "title": "Gzm-B, ng/mL"}}}},
   {"data": {"values": [{"r2": "R² = 0.5547"}]}, "mark": {"type": "text", "font": "Lato", "fontWeight": "bold", "fontSize": 19, "fill": "white", "stroke": "white", "strokeWidth": 6, "strokeJoin": "round"},
    "encoding": {"x": {"datum": 784, "type": "quantitative", "axis": {"values": [0, 500, 1000, 1500, 2000], "title": "GNLY, ng/mL"}}, "y": {"datum": 302, "type": "quantitative", "axis": {"values": [0, 50, 100, 150, 200, 250, 300, 350], "title": "Gzm-B, ng/mL"}}, "text": {"field": "r2"}}},
   {"data": {"values": [{"r2": "R² = 0.5547"}]}, "mark": {"type": "text", "font": "Lato", "fontWeight": "bold", "fontSize": 19, "fill": "black"},
    "encoding": {"x": {"datum": 784, "type": "quantitative", "axis": {"values": [0, 500, 1000, 1500, 2000], "title": "GNLY, ng/mL"}}, "y": {"datum": 302, "type": "quantitative", "axis": {"values": [0, 50, 100, 150, 200, 250, 300, 350], "title": "Gzm-B, ng/mL"}}, "text": {"field": "r2"}}}
 ]},
 {"width": 175, "height": 177, "layer": [
   {"data": {"name": "GzmB_FasL"}, "mark": {"type": "point", "shape": "diamond", "filled": true, "size": 70, "color": "#1f4e8b", "opacity": 1},
    "encoding": {"x": {"field": "FasL", "type": "quantitative", "scale": {"domain": [0, 8], "nice": false}, "axis": {"values": [0, 2, 4, 6, 8], "title": "FasL, ng/mL"}},
                 "y": {"field": "GzmB", "type": "quantitative", "scale": {"domain": [0, 350], "nice": false}, "axis": {"values": [0, 50, 100, 150, 200, 250, 300, 350], "title": "Gzm-B, ng/mL"}}}},
   {"data": {"name": "fit_GzmB_FasL"}, "mark": {"type": "line", "color": "#000000", "strokeWidth": 1},
    "encoding": {"x": {"field": "FasL", "type": "quantitative", "axis": {"values": [0, 2, 4, 6, 8], "title": "FasL, ng/mL"}}, "y": {"field": "GzmB", "type": "quantitative", "axis": {"values": [0, 50, 100, 150, 200, 250, 300, 350], "title": "Gzm-B, ng/mL"}}}},
   {"data": {"values": [{"r2": "R² = 0.1425"}]}, "mark": {"type": "text", "font": "Lato", "fontWeight": "bold", "fontSize": 19, "fill": "white", "stroke": "white", "strokeWidth": 6, "strokeJoin": "round"},
    "encoding": {"x": {"datum": 5.53, "type": "quantitative", "axis": {"values": [0, 2, 4, 6, 8], "title": "FasL, ng/mL"}}, "y": {"datum": 302, "type": "quantitative", "axis": {"values": [0, 50, 100, 150, 200, 250, 300, 350], "title": "Gzm-B, ng/mL"}}, "text": {"field": "r2"}}},
   {"data": {"values": [{"r2": "R² = 0.1425"}]}, "mark": {"type": "text", "font": "Lato", "fontWeight": "bold", "fontSize": 19, "fill": "black"},
    "encoding": {"x": {"datum": 5.53, "type": "quantitative", "axis": {"values": [0, 2, 4, 6, 8], "title": "FasL, ng/mL"}}, "y": {"datum": 302, "type": "quantitative", "axis": {"values": [0, 50, 100, 150, 200, 250, 300, 350], "title": "Gzm-B, ng/mL"}}, "text": {"field": "r2"}}}
 ]},
 {"width": 124, "height": 177, "data": {"values": [{"name": "Gzm-B"}]}, "layer": [
   {"mark": {"type": "rule", "color": "#1f4e8c", "strokeWidth": 3}, "encoding": {"x": {"datum": -0.194, "type": "quantitative", "scale": {"domain": [0, 1]}, "axis": null}, "y": {"datum": -0.113, "type": "quantitative", "scale": {"domain": [0, 1]}, "axis": null}, "y2": {"datum": 0.955}}},
   {"mark": {"type": "text", "font": "Lato", "fontWeight": "bold", "fontSize": 36, "align": "left", "baseline": "middle", "color": "black"}, "encoding": {"x": {"datum": 0.024, "type": "quantitative"}, "y": {"datum": 0.418, "type": "quantitative"}, "text": {"field": "name"}}}
 ]},

 {"width": 180, "height": 178, "data": {"values": [{}]}, "mark": {"type": "text", "text": ""}, "encoding": {}},
 {"width": 178, "height": 178, "data": {"values": [{}]}, "mark": {"type": "text", "text": ""}, "encoding": {}},
 {"width": 172, "height": 178, "data": {"values": [{}]}, "mark": {"type": "text", "text": ""}, "encoding": {}},
 {"width": 175, "height": 178, "layer": [
   {"data": {"name": "GNLY_FasL"}, "mark": {"type": "point", "shape": "diamond", "filled": true, "size": 70, "color": "#1f4e8b", "opacity": 1},
    "encoding": {"x": {"field": "FasL", "type": "quantitative", "scale": {"domain": [0, 8], "nice": false}, "axis": {"values": [0, 2, 4, 6, 8], "title": "FasL, ng/mL"}},
                 "y": {"field": "GNLY", "type": "quantitative", "scale": {"domain": [0, 2000], "nice": false}, "axis": {"values": [0, 200, 400, 600, 800, 1000, 1200, 1400, 1600, 1800, 2000], "title": "GNLY, ng/mL"}}}},
   {"data": {"name": "fit_GNLY_FasL"}, "mark": {"type": "line", "color": "#000000", "strokeWidth": 1},
    "encoding": {"x": {"field": "FasL", "type": "quantitative", "axis": {"values": [0, 2, 4, 6, 8], "title": "FasL, ng/mL"}}, "y": {"field": "GNLY", "type": "quantitative", "axis": {"values": [0, 200, 400, 600, 800, 1000, 1200, 1400, 1600, 1800, 2000], "title": "GNLY, ng/mL"}}}},
   {"data": {"values": [{"r2": "R² = 0.027"}]}, "mark": {"type": "text", "font": "Lato", "fontWeight": "bold", "fontSize": 19, "fill": "white", "stroke": "white", "strokeWidth": 6, "strokeJoin": "round"},
    "encoding": {"x": {"datum": 5.49, "type": "quantitative", "axis": {"values": [0, 2, 4, 6, 8], "title": "FasL, ng/mL"}}, "y": {"datum": 1730, "type": "quantitative", "axis": {"values": [0, 200, 400, 600, 800, 1000, 1200, 1400, 1600, 1800, 2000], "title": "GNLY, ng/mL"}}, "text": {"field": "r2"}}},
   {"data": {"values": [{"r2": "R² = 0.027"}]}, "mark": {"type": "text", "font": "Lato", "fontWeight": "bold", "fontSize": 19, "fill": "black"},
    "encoding": {"x": {"datum": 5.49, "type": "quantitative", "axis": {"values": [0, 2, 4, 6, 8], "title": "FasL, ng/mL"}}, "y": {"datum": 1730, "type": "quantitative", "axis": {"values": [0, 200, 400, 600, 800, 1000, 1200, 1400, 1600, 1800, 2000], "title": "GNLY, ng/mL"}}, "text": {"field": "r2"}}}
 ]},
 {"width": 124, "height": 178, "data": {"values": [{"name": "GNLY"}]}, "layer": [
   {"mark": {"type": "rule", "color": "#1f4e8c", "strokeWidth": 3}, "encoding": {"x": {"datum": -0.194, "type": "quantitative", "scale": {"domain": [0, 1]}, "axis": null}, "y": {"datum": -0.112, "type": "quantitative", "scale": {"domain": [0, 1]}, "axis": null}, "y2": {"datum": 0.955}}},
   {"mark": {"type": "text", "font": "Lato", "fontWeight": "bold", "fontSize": 36, "align": "left", "baseline": "middle", "color": "black"}, "encoding": {"x": {"datum": 0.024, "type": "quantitative"}, "y": {"datum": 0.41, "type": "quantitative"}, "text": {"field": "name"}}}
 ]},

 {"width": 180, "height": 50, "data": {"values": [{"name": "Gzm-A"}]}, "layer": [
   {"mark": {"type": "rule", "color": "#1f4e8c", "strokeWidth": 3.5}, "encoding": {"x": {"datum": -0.45, "type": "quantitative", "scale": {"domain": [0, 1]}, "axis": null}, "x2": {"datum": 0.606}, "y": {"datum": 1.24, "type": "quantitative", "scale": {"domain": [0, 1]}, "axis": null}}},
   {"mark": {"type": "text", "font": "Lato", "fontWeight": "bold", "fontSize": 37, "align": "center", "baseline": "alphabetic", "color": "black"}, "encoding": {"x": {"datum": 0.069, "type": "quantitative"}, "y": {"datum": 0.24, "type": "quantitative"}, "text": {"field": "name"}}}
 ]},
 {"width": 178, "height": 50, "data": {"values": [{"name": "Gzm-B"}]}, "layer": [
   {"mark": {"type": "rule", "color": "#1f4e8c", "strokeWidth": 3.5}, "encoding": {"x": {"datum": -0.309, "type": "quantitative", "scale": {"domain": [0, 1]}, "axis": null}, "x2": {"datum": 0.758}, "y": {"datum": 1.24, "type": "quantitative", "scale": {"domain": [0, 1]}, "axis": null}}},
   {"mark": {"type": "text", "font": "Lato", "fontWeight": "bold", "fontSize": 37, "align": "center", "baseline": "alphabetic", "color": "black"}, "encoding": {"x": {"datum": 0.264, "type": "quantitative"}, "y": {"datum": 0.24, "type": "quantitative"}, "text": {"field": "name"}}}
 ]},
 {"width": 172, "height": 50, "data": {"values": [{"name": "GNLY"}]}, "layer": [
   {"mark": {"type": "rule", "color": "#1f4e8c", "strokeWidth": 3.5}, "encoding": {"x": {"datum": -0.163, "type": "quantitative", "scale": {"domain": [0, 1]}, "axis": null}, "x2": {"datum": 0.948}, "y": {"datum": 1.24, "type": "quantitative", "scale": {"domain": [0, 1]}, "axis": null}}},
   {"mark": {"type": "text", "font": "Lato", "fontWeight": "bold", "fontSize": 37, "align": "center", "baseline": "alphabetic", "color": "black"}, "encoding": {"x": {"datum": 0.419, "type": "quantitative"}, "y": {"datum": 0.24, "type": "quantitative"}, "text": {"field": "name"}}}
 ]},
 {"width": 175, "height": 50, "data": {"values": [{"name": "FasL"}]}, "layer": [
   {"mark": {"type": "rule", "color": "#1f4e8c", "strokeWidth": 3.5}, "encoding": {"x": {"datum": -0.097, "type": "quantitative", "scale": {"domain": [0, 1]}, "axis": null}, "x2": {"datum": 0.994}, "y": {"datum": 1.24, "type": "quantitative", "scale": {"domain": [0, 1]}, "axis": null}}},
   {"mark": {"type": "text", "font": "Lato", "fontWeight": "bold", "fontSize": 37, "align": "center", "baseline": "alphabetic", "color": "black"}, "encoding": {"x": {"datum": 0.451, "type": "quantitative"}, "y": {"datum": 0.24, "type": "quantitative"}, "text": {"field": "name"}}}
 ]},
 {"width": 124, "height": 50, "data": {"values": [{}]}, "mark": {"type": "text", "text": ""}, "encoding": {}}
],
"columns": 5,
"align": "each",
"bounds": "flush",
"spacing": {"row": 95, "column": 94},
"config": {
  "view": {"stroke": null},
  "font": "Lato",
  "axis": {"labelFont": "Lato", "labelFontWeight": "bold", "labelFontSize": 9, "labelColor": "#262626", "titleFont": "Lato", "titleFontWeight": "bold", "titleFontSize": 12, "titleColor": "#262626", "domainColor": "#868686", "tickColor": "#868686", "gridColor": "#8a8a8a", "labelFlush": false, "labelOverlap": false, "format": "d"},
  "axisX": {"grid": false, "tickSize": 4, "labelPadding": 8, "titlePadding": 8},
  "axisY": {"grid": true, "tickSize": 3, "labelPadding": 4, "titlePadding": 10}
}
}
